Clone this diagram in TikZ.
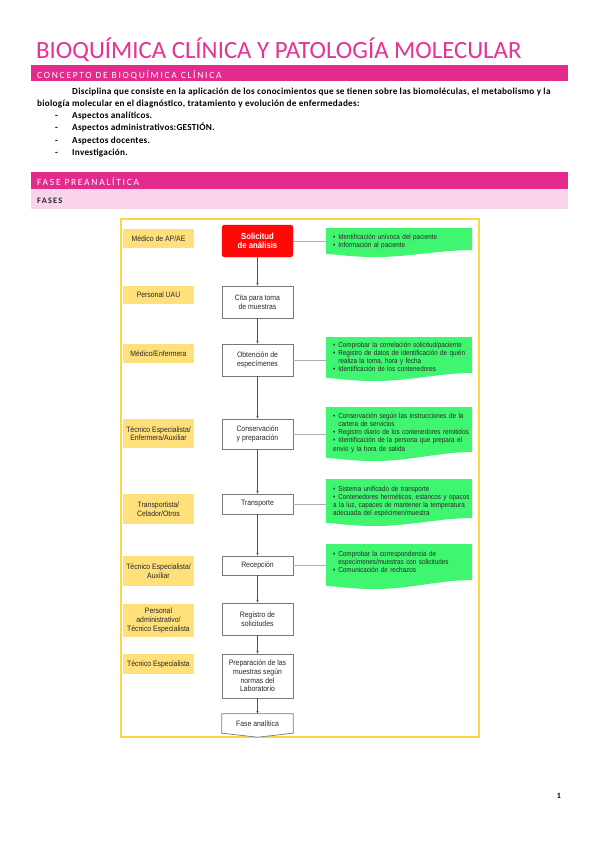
\documentclass[tikz,border=0pt]{standalone}
\usepackage{fontspec}
\setmainfont{Carlito}
\newfontfamily\flowfont[FakeStretch=0.88]{Liberation Sans}
\usetikzlibrary{arrows.meta,calc}
\definecolor{pinkbar}{RGB}{228,43,141}
\definecolor{titlepink}{RGB}{232,50,146}
\definecolor{lightpink}{RGB}{249,211,232}
\definecolor{framey}{RGB}{255,214,70}
\definecolor{labely}{RGB}{255,224,122}
\definecolor{gfill}{RGB}{64,246,112}
\definecolor{redbox}{RGB}{255,8,8}
\definecolor{boxgrey}{RGB}{120,120,120}
\definecolor{linkgrey}{RGB}{175,175,175}
\definecolor{txtgrey}{RGB}{40,40,40}
\newcommand\gbull{\par\hangindent=5.2pt\hangafter=1\noindent\makebox[5.2pt][l]{\textbullet}}
\newcommand\greenshape[3]{%
  \fill[gfill] (326,#1) -- (472,#1) -- (472,#2)
    .. controls (440,#2) and (410,#3+3) .. (375,#3+3)
    .. controls (350,#3+3) and (335,#3) .. (326,#3) -- cycle;}
\begin{document}
\begin{tikzpicture}[x=1pt,y=-1pt,
  lbl/.style={fill=labely, minimum width=71pt, inner sep=0pt, align=center,
    text=txtgrey, font=\flowfont\fontsize{7.8}{8.6}\selectfont},
  stepbox/.style={draw=boxgrey, line width=0.7pt, fill=white, minimum width=71pt,
    inner sep=0pt, align=center, text=txtgrey, font=\flowfont\fontsize{7.8}{8.6}\selectfont},
  gtext/.style={anchor=north west, inner sep=0pt, text width=140pt, align=left,
    text=txtgrey, font=\flowfont\fontsize{7.2}{8.3}\selectfont},
  flow/.style={draw=txtgrey!80, line width=0.6pt, -{Stealth[length=3pt,width=2.4pt]}},
  link/.style={draw=linkgrey, line width=0.9pt},
  bodytext/.style={anchor=base west, inner sep=0pt, text=black,
    font=\bfseries\fontsize{9.2}{10}\selectfont\addfontfeature{LetterSpace=3}}]
\useasboundingbox (0,0) rectangle (599,848);
\fill[white] (0,0) rectangle (599,848);

% Title
\node[anchor=base west, inner sep=0pt, text=titlepink, font=\fontsize{24.8}{28}\selectfont] (title) at (36,59) {BIOQUÍMICA CLÍNICA Y PATOLOGÍA MOLECULAR};

% Bar 1
\fill[pinkbar] (31,65) rectangle (568,81);
\node[anchor=base west, inner sep=0pt, text=white, font=\fontsize{9.5}{10}\selectfont\addfontfeature{LetterSpace=18}] (bar1) at (37,79) {CONCEPTO DE BIOQUÍMICA CLÍNICA};

% Paragraph
\node[bodytext] (p1) at (72,95) {Disciplina que consiste en la aplicación de los conocimientos que se tienen sobre las biomoléculas, el metabolismo y la};
\node[bodytext] (p2) at (37,107) {biología molecular en el diagnóstico, tratamiento y evolución de enfermedades:};
\node[bodytext] (d1) at (55,119) {-};
\node[bodytext] (b1) at (72,119) {Aspectos analíticos.};
\node[bodytext] (d2) at (55,131) {-};
\node[bodytext] (b2) at (72,131) {Aspectos administrativos:GESTIÓN.};
\node[bodytext] (d3) at (55,143) {-};
\node[bodytext] (b3) at (72,143) {Aspectos docentes.};
\node[bodytext] (d4) at (55,155) {-};
\node[bodytext] (b4) at (72,155) {Investigación.};

% Bar 2
\fill[pinkbar] (31,172) rectangle (568,189);
\fill[lightpink] (31,189) rectangle (568,209);
\node[anchor=base west, inner sep=0pt, text=white, font=\fontsize{9.5}{10}\selectfont\addfontfeature{LetterSpace=18}] (bar2) at (37,185) {FASE PREANALÍTICA};
\node[anchor=base west, inner sep=0pt, text=txtgrey, font=\bfseries\fontsize{8.4}{9}\selectfont\addfontfeature{LetterSpace=14}] (fases) at (37,203) {FASES};

% Frame
\draw[framey, line width=1.3pt] (121,219) rectangle (479,737);

% Left labels
\node[lbl, minimum height=19pt] (l1) at (158.5,238.5) {Médico de AP/AE};
\node[lbl, minimum height=18pt] (l2) at (158.5,295) {Personal UAU};
\node[lbl, minimum height=19pt] (l3) at (158.5,353.5) {Médico/Enfermera};
\node[lbl, minimum height=29pt] (l4) at (158.5,433.5) {Técnico Especialista/\\Enfermera/Auxiliar};
\node[lbl, minimum height=30pt] (l5) at (158.5,509) {Transportista/\\Celador/Otros};
\node[lbl, minimum height=30pt] (l6) at (158.5,571) {Técnico Especialista/\\Auxiliar};
\node[lbl, minimum height=33pt] (l7) at (158.5,620.5) {Personal\\administrativo/\\Técnico Especialista};
\node[lbl, minimum height=20pt] (l8) at (158.5,664) {Técnico Especialista};

% Center boxes
\node[draw=redbox, fill=redbox, rounded corners=2.5pt, minimum width=71pt, minimum height=32pt,
  inner sep=0pt, align=center, text=white, font=\flowfont\bfseries\fontsize{8.8}{9.6}\selectfont] (s1) at (257.5,241) {Solicitud\\de análisis};
\node[stepbox, minimum height=32pt] (s2) at (257.5,302) {Cita para toma\\de muestras};
\node[stepbox, minimum height=32pt] (s3) at (257.5,360) {Obtención de\\especímenes};
\node[stepbox, minimum height=30pt] (s4) at (257.5,434) {Conservación\\y preparación};
\node[stepbox, minimum height=20pt] (s5) at (257.5,504) {Transporte};
\node[stepbox, minimum height=19pt] (s6) at (257.5,565.5) {Recepción};
\node[stepbox, minimum height=32pt] (s7) at (257.5,619) {Registro de\\solicitudes};
\node[stepbox, minimum height=44pt] (s8) at (257.5,676) {Preparación de las\\muestras según\\normas del\\Laboratorio};
\node[minimum width=71pt, minimum height=19pt, inner sep=0pt, align=center, text=txtgrey,
  font=\flowfont\fontsize{7.8}{8.6}\selectfont] (s9) at (257.5,723.5) {Fase analítica};
\draw[boxgrey, line width=0.7pt, fill=white] (s9.north west) -- (s9.north east) -- (s9.south east)
  -- ($(s9.south)+(0,4)$) -- (s9.south west) -- cycle;
\node[minimum width=71pt, minimum height=19pt, inner sep=0pt, align=center, text=txtgrey,
  font=\flowfont\fontsize{7.8}{8.6}\selectfont] at (s9) {Fase analítica};

% Flow arrows
\draw[flow] (s1) -- (s2);
\draw[flow] (s2) -- (s3);
\draw[flow] (s3) -- (s4);
\draw[flow] (s4) -- (s5);
\draw[flow] (s5) -- (s6);
\draw[flow] (s6) -- (s7);
\draw[flow] (s7) -- (s8);
\draw[flow] (s8) -- (s9);

% Green boxes
\greenshape{228}{250}{254}
\greenshape{337}{373}{378}
\greenshape{407}{452}{458}
\greenshape{479}{518}{523}
\greenshape{544}{580}{586}
\coordinate (g1) at (326,241);
\coordinate (g2) at (326,360);
\coordinate (g3) at (326,434);
\coordinate (g4) at (326,504);
\coordinate (g5) at (326,565.5);
\draw[link] (s1.east) -- (g1);
\draw[link] (s3.east) -- (g2);
\draw[link] (s4.east) -- (g3);
\draw[link] (s5.east) -- (g4);
\draw[link] (s6.east) -- (g5);

\node[gtext] (t1) at (333,231) {\gbull Identificación unívoca del paciente\gbull Información al paciente};
\node[gtext] (t2) at (333,338.5) {\gbull Comprobar la correlación solicitud/paciente\gbull Registro de datos de identificación de quién\newline realiza la toma, hora y fecha\gbull Identificación de los contenedores};
\node[gtext] (t3) at (333,409.5) {\gbull Conservación según las instrucciones de la\newline cartera de servicios\gbull Registro diario de los contenedores remitidos\gbull Identificación de la persona que prepara el\newline envío y la hora de salida};
\node[gtext] (t4) at (333,482.5) {\gbull Sistema unificado de transporte\gbull Contenedores herméticos, estancos y opacos\newline a la luz, capaces de mantener la temperatura\newline adecuada del espécimen/muestra};
\node[gtext] (t5) at (333,547.5) {\gbull Comprobar la correspondencia de\newline especímenes/muestras con solicitudes\gbull Comunicación de rechazos};

% Page number
\node[anchor=base, inner sep=0pt, font=\bfseries\fontsize{8}{9}\selectfont] (pg) at (559,798) {1};
\end{tikzpicture}
\end{document}
